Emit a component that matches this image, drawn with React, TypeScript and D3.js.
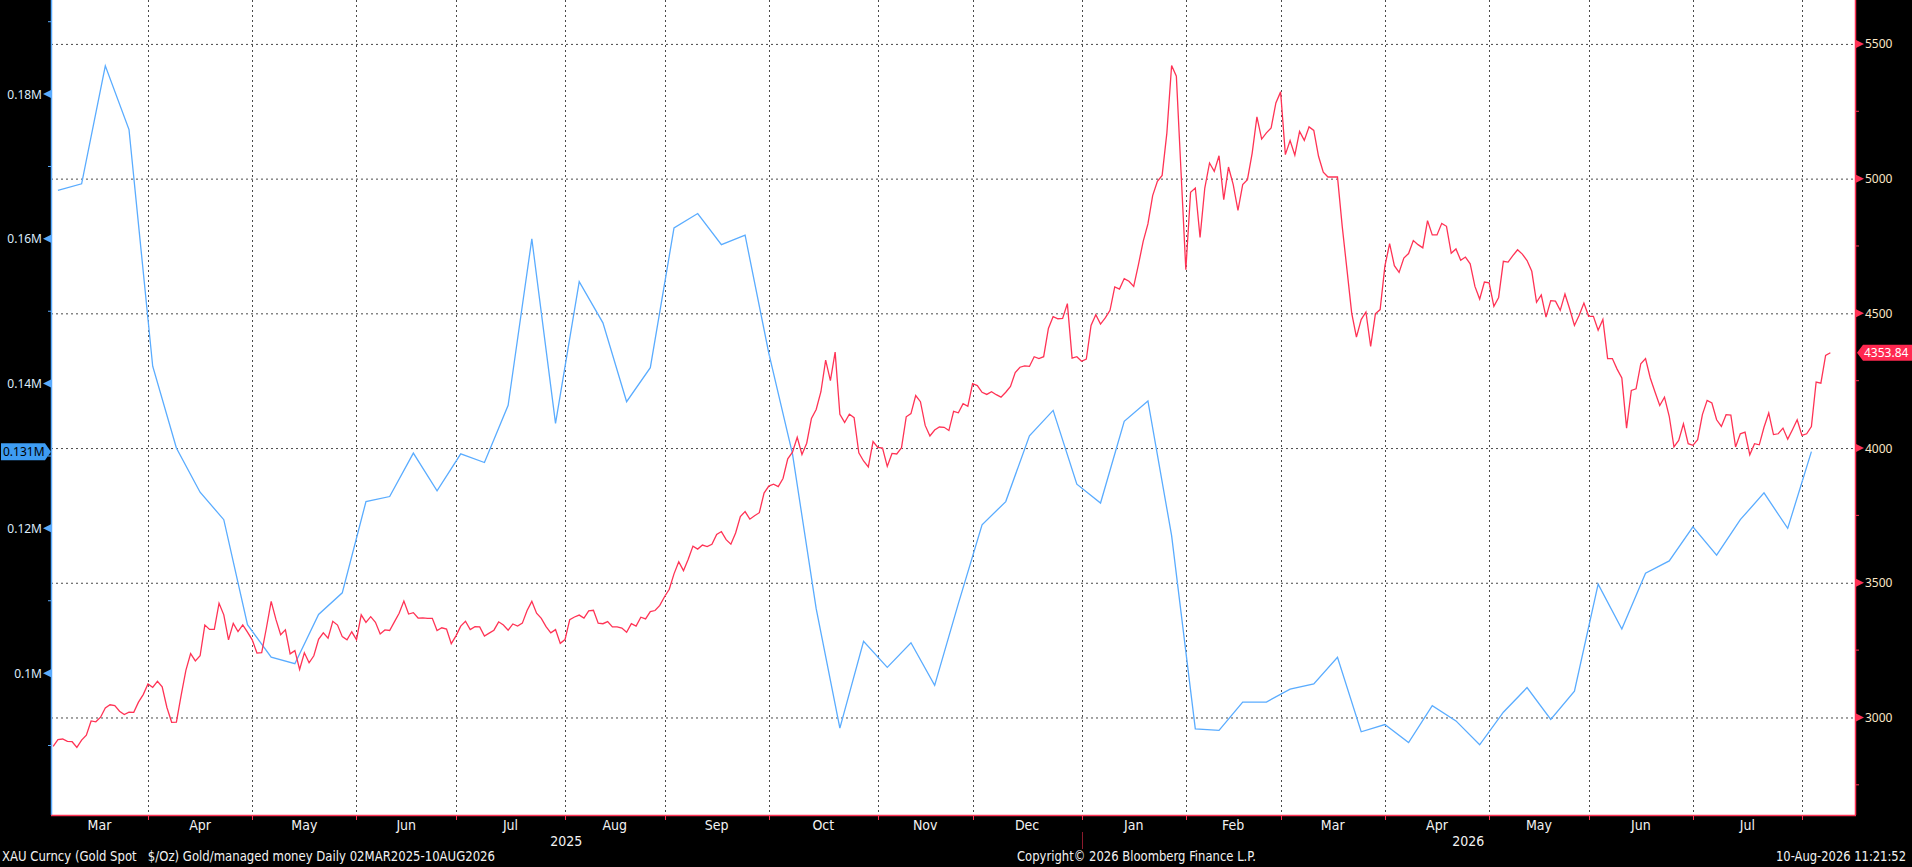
import * as d3 from 'd3';

const W = 1912;
const H = 867;

// XAU spot close, one value per weekday, 03-Mar-2025 .. 10-Aug-2026
const goldClose: number[] = [
  2893, 2918, 2920, 2911, 2910,
  2889, 2916, 2934, 2987, 2984,
  3001, 3035, 3047, 3044, 3023,
  3011, 3020, 3019, 3057, 3085,
  3124, 3112, 3134, 3114, 3037,
  2982, 2983, 3082, 3175, 3237,
  3210, 3229, 3343, 3327, 3327,
  3424, 3381, 3288, 3349, 3319,
  3344, 3317, 3288, 3239, 3241,
  3333, 3431, 3364, 3307, 3325,
  3236, 3248, 3178, 3240, 3203,
  3229, 3290, 3314, 3294, 3357,
  3343, 3300, 3288, 3318, 3289,
  3381, 3353, 3374, 3353, 3310,
  3325, 3323, 3355, 3387, 3432,
  3384, 3389, 3369, 3370, 3368,
  3368, 3323, 3333, 3328, 3274,
  3303, 3339, 3357, 3326, 3337,
  3336, 3302, 3313, 3324, 3355,
  3343, 3324, 3347, 3339, 3350,
  3397, 3431, 3387, 3368, 3337,
  3314, 3326, 3275, 3289, 3363,
  3373, 3380, 3369, 3396, 3398,
  3350, 3348, 3356, 3336, 3336,
  3332, 3316, 3348, 3339, 3372,
  3366, 3393, 3397, 3416, 3448,
  3476, 3533, 3578, 3545, 3587,
  3636, 3625, 3640, 3634, 3643,
  3679, 3690, 3660, 3643, 3685,
  3746, 3764, 3736, 3749, 3760,
  3833, 3859, 3866, 3857, 3887,
  3960, 3985, 4040, 3976, 4018,
  4110, 4143, 4209, 4326, 4250,
  4356, 4125, 4095, 4126, 4113,
  3982, 3952, 3930, 4024, 4002,
  4000, 3932, 3980, 3978, 4001,
  4116, 4128, 4195, 4172, 4084,
  4045, 4067, 4078, 4077, 4065,
  4136, 4131, 4165, 4155, 4239,
  4232, 4207, 4199, 4209, 4198,
  4189, 4207, 4229, 4280, 4300,
  4305, 4303, 4339, 4332, 4339,
  4444, 4488, 4480, 4481, 4536,
  4334, 4339, 4322, 4330, 4455,
  4495, 4460, 4483, 4511, 4598,
  4590, 4629, 4619, 4600, 4681,
  4767, 4832, 4937, 4990, 5012,
  5170, 5420, 5380, 5021, 4662,
  4949, 4965, 4782, 4965, 5058,
  5027, 5085, 4922, 5043, 4978,
  4882, 4978, 4996, 5095, 5229,
  5147, 5170, 5188, 5281, 5322,
  5089, 5141, 5087, 5175, 5142,
  5192, 5179, 5083, 5024, 5006,
  5006, 5006, 4823, 4662, 4501,
  4412, 4477, 4505, 4377, 4498,
  4514, 4675, 4759, 4677, 4652,
  4705, 4722, 4770, 4755, 4743,
  4844, 4791, 4791, 4834, 4823,
  4723, 4739, 4697, 4709, 4684,
  4600, 4553, 4616, 4613, 4526,
  4559, 4693, 4690, 4714, 4736,
  4720, 4696, 4656, 4541, 4568,
  4486, 4547, 4545, 4511, 4572,
  4516, 4455, 4493, 4538, 4489,
  4489, 4437, 4477, 4332, 4332,
  4293, 4260, 4074, 4214, 4220,
  4313, 4332, 4260, 4208, 4158,
  4189, 4118, 4004, 4028, 4090,
  4016, 4010, 4031, 4124, 4177,
  4167, 4105, 4080, 4124, 4122,
  4004, 4053, 4059, 3975, 4016,
  4012, 4077, 4130, 4050, 4053,
  4074, 4033, 4068, 4105, 4047,
  4053, 4080, 4245, 4241, 4344,
  4353.84,
];

// managed money, weekly (Tuesdays) from 04-Mar-2025, in millions
const managedMoney: number[] = [
  0.1667, 0.1676, 0.1839, 0.1751, 0.1424, 0.1311, 0.1250, 0.1212, 0.1067, 0.1022,
  0.1013, 0.1081, 0.1111, 0.1237, 0.1244, 0.1304, 0.1252, 0.1303, 0.1291, 0.1370,
  0.1600, 0.1345, 0.1541, 0.1484, 0.1375, 0.1422, 0.1615, 0.1635, 0.1592, 0.1605,
  0.1442, 0.1303, 0.1089, 0.0924, 0.1044, 0.1008, 0.1042, 0.0983, 0.1096, 0.1205,
  0.1237, 0.1328, 0.1363, 0.1261, 0.1235, 0.1348, 0.1376, 0.1190, 0.0923, 0.0921,
  0.0960, 0.0960, 0.0978, 0.0985, 0.1022, 0.0919, 0.0929, 0.0904, 0.0955, 0.0934,
  0.0901, 0.0946, 0.0980, 0.0936, 0.0975, 0.1123, 0.1061, 0.1138, 0.1155, 0.1202,
  0.1163, 0.1212, 0.1249, 0.1200, 0.1306,
];

const monthLabels = ['Mar', 'Apr', 'May', 'Jun', 'Jul', 'Aug', 'Sep', 'Oct', 'Nov', 'Dec',
  'Jan', 'Feb', 'Mar', 'Apr', 'May', 'Jun', 'Jul'];
const yearLabels = ['2025', '2026'];
const goldTicks = [3000, 3500, 4000, 4500, 5000, 5500];
const goldMinorTicks = [2750, 3250, 3750, 4250, 4750, 5250];
const mmTicks = [0.1, 0.12, 0.14, 0.16, 0.18];
const mmMinorTicks = [0.09, 0.11, 0.13, 0.15, 0.17, 0.19];

const footerLeft = 'XAU Curncy (Gold Spot   $/Oz) Gold/managed money Daily 02MAR2025-10AUG2026';
const footerMid = 'Copyright\u00a9 2026 Bloomberg Finance L.P.';
const footerRight = '10-Aug-2026 11:21:52';

const RED = '#ff3355';
const BLUE = '#5aacff';
const GRID = '#4a4a4a';
const NUM_FONT = "'Noto Sans', 'Liberation Sans', sans-serif";
const NARROW_FONT = "'Liberation Sans Narrow', 'DejaVu Sans Condensed', 'Arial Narrow', sans-serif";

const plot = { left: 51, right: 1855, top: 0, bottom: 815 };

// trading days (weekdays) the gold series sits on
const days = d3.utcDays(new Date(Date.UTC(2025, 2, 3)), new Date(Date.UTC(2026, 7, 11)))
  .filter(d => d.getUTCDay() !== 0 && d.getUTCDay() !== 6);

export default function App() {
  const x = d3.scaleLinear().domain([-0.46, 380.2]).range([plot.left, plot.right]);
  const yGold = d3.scaleLinear().domain([2638, 5663]).range([plot.bottom, plot.top]);
  const yMM = d3.scaleLinear().domain([0.0804, 0.193]).range([plot.bottom, plot.top]);

  // month grid sits on the last trading day of the previous month
  const monthStarts: number[] = [];
  days.forEach((d, i) => {
    if (i > 0 && d.getUTCMonth() !== days[i - 1].getUTCMonth()) monthStarts.push(i);
  });
  const gridX = monthStarts.map(i => x(i - 1));
  const bounds = [plot.left, ...gridX, plot.right];
  const janIdx = monthStarts.findIndex(i => days[i].getUTCMonth() === 0);
  const yearX = gridX[janIdx];

  const goldLine = d3.line<number>()
    .x((_, i) => x(i))
    .y(d => yGold(d));
  const mmLine = d3.line<number>()
    .x((_, k) => x(1 + 5 * k))
    .y(d => yMM(d));

  const lastGold = goldClose[goldClose.length - 1];
  const lastMM = managedMoney[managedMoney.length - 1];
  const gy = yGold(lastGold);
  const my = yMM(lastMM);

  return (
    <div style={{ position: 'absolute', left: 0, top: 0 }}>
      <svg width={W} height={H} style={{ display: 'block', background: '#000' }}>
        <defs>
          <clipPath id="plot-clip">
            <rect x={plot.left} y={plot.top} width={plot.right - plot.left} height={plot.bottom - plot.top} />
          </clipPath>
        </defs>
        <rect x={plot.left} y={plot.top} width={plot.right - plot.left} height={plot.bottom - plot.top} fill="#fff" />

        {/* grid */}
        {goldTicks.map(t => (
          <line key={'h' + t} x1={plot.left} x2={plot.right} y1={yGold(t) + 0.5} y2={yGold(t) + 0.5}
            stroke={GRID} strokeDasharray="2,3" />
        ))}
        {gridX.map((gx, i) => (
          <line key={'v' + i} x1={Math.round(gx) + 0.5} x2={Math.round(gx) + 0.5} y1={plot.top} y2={plot.bottom}
            stroke={GRID} strokeDasharray="2,3" />
        ))}

        <g clipPath="url(#plot-clip)">
          <path d={mmLine(managedMoney) ?? ''} fill="none" stroke={BLUE} strokeWidth={1.3} />
          <path d={goldLine(goldClose) ?? ''} fill="none" stroke={RED} strokeWidth={1.3} />
        </g>

        {/* left axis */}
        <line x1={plot.left + 0.5} x2={plot.left + 0.5} y1={plot.top} y2={plot.bottom} stroke={BLUE} strokeWidth={1.5} />
        {mmMinorTicks.map(t => (
          <line key={'lm' + t} x1={plot.left - 3} x2={plot.left} y1={yMM(t)} y2={yMM(t)} stroke={BLUE} />
        ))}
        {mmTicks.map(t => (
          <g key={'l' + t}>
            <path d={`M${plot.left - 8},${yMM(t)} L${plot.left},${yMM(t) - 4} L${plot.left},${yMM(t) + 4} Z`} fill={BLUE} />
            <text x={plot.left - 9} y={yMM(t) + 4.5} textAnchor="end" fill="#dcecfb"
              style={{ font: `12px ${NUM_FONT}` }}>{`${+t.toFixed(2)}M`}</text>
          </g>
        ))}
        <path d={`M1,${my - 8.5} L45,${my - 8.5} L51,${my} L45,${my + 8.5} L1,${my + 8.5} Z`} fill="#3e9cf2" />
        <text x={3} y={my + 4.5} fill="#000" style={{ font: `12px ${NUM_FONT}` }}>{`${lastMM.toFixed(3)}M`}</text>

        {/* right axis */}
        <line x1={plot.right + 0.5} x2={plot.right + 0.5} y1={plot.top} y2={plot.bottom} stroke={RED} strokeWidth={1.5} />
        {goldMinorTicks.map(t => (
          <line key={'rm' + t} x1={plot.right} x2={plot.right + 4} y1={yGold(t)} y2={yGold(t)} stroke={RED} />
        ))}
        {goldTicks.map(t => (
          <g key={'r' + t}>
            <path d={`M${plot.right + 9},${yGold(t)} L${plot.right + 1},${yGold(t) - 4} L${plot.right + 1},${yGold(t) + 4} Z`} fill={RED} />
            <text x={plot.right + 10} y={yGold(t) + 4.5} fill="#fbe6c6"
              style={{ font: `12px ${NUM_FONT}` }}>{t}</text>
          </g>
        ))}
        <path d={`M${plot.right + 2},${gy} L${plot.right + 8},${gy - 8} L${W},${gy - 8} L${W},${gy + 8} L${plot.right + 8},${gy + 8} Z`} fill="#ff2850" />
        <text x={plot.right + 9} y={gy + 4.5} fill="#fff" style={{ font: `12px ${NUM_FONT}` }}>{lastGold.toFixed(2)}</text>

        {/* bottom axis */}
        <line x1={plot.left} x2={plot.right + 1} y1={plot.bottom + 0.5} y2={plot.bottom + 0.5} stroke={RED} strokeWidth={1.5} />
        {gridX.map((gx, i) => (
          <line key={'t' + i} x1={Math.round(gx) + 0.5} x2={Math.round(gx) + 0.5} y1={plot.bottom} y2={plot.bottom + 5} stroke={RED} />
        ))}
        {monthLabels.map((m, i) => (
          <text key={'m' + i} x={(bounds[i] + bounds[i + 1]) / 2} y={830} textAnchor="middle" fill="#f2f2f2"
            style={{ font: `14px ${NARROW_FONT}` }}>{m}</text>
        ))}
        <line x1={Math.round(yearX) + 0.5} x2={Math.round(yearX) + 0.5} y1={832} y2={849} stroke="#8a1a2c" />
        <text x={(plot.left + yearX) / 2} y={846} textAnchor="middle" fill="#f2f2f2"
          style={{ font: `14px ${NARROW_FONT}` }}>{yearLabels[0]}</text>
        <text x={(yearX + plot.right) / 2} y={846} textAnchor="middle" fill="#f2f2f2"
          style={{ font: `14px ${NARROW_FONT}` }}>{yearLabels[1]}</text>

        {/* footer */}
        <text x={2} y={861} fill="#f2f2f2" textLength={493} lengthAdjust="spacingAndGlyphs"
          style={{ font: `13.5px ${NARROW_FONT}`, whiteSpace: 'pre' }}>{footerLeft}</text>
        <text x={1017} y={861} fill="#f2f2f2" textLength={239} lengthAdjust="spacingAndGlyphs"
          style={{ font: `13.5px ${NARROW_FONT}` }}>{footerMid}</text>
        <text x={1906} y={861} textAnchor="end" fill="#f2f2f2" textLength={130} lengthAdjust="spacingAndGlyphs"
          style={{ font: `13.5px ${NARROW_FONT}` }}>{footerRight}</text>
      </svg>
    </div>
  );
}
